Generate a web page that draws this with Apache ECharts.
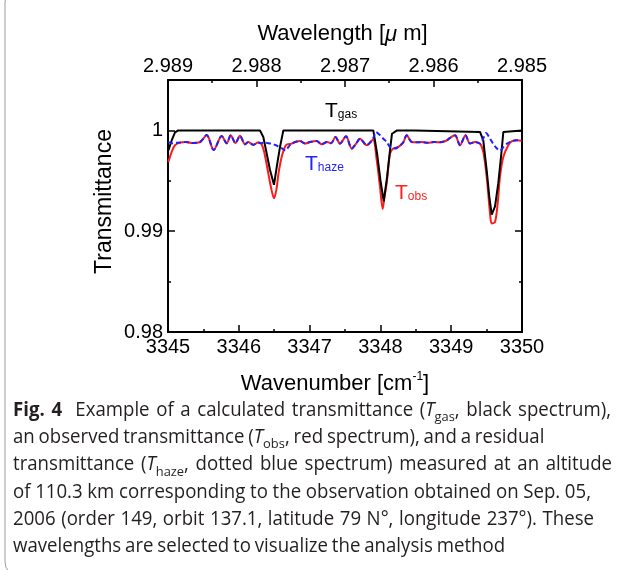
<!DOCTYPE html>
<html><head><meta charset="utf-8">
<script src="https://cdn.jsdelivr.net/npm/echarts@6/dist/echarts.min.js"></script>
<style>html,body{margin:0;padding:0;background:#fff}#c{width:627px;height:570px}</style>
</head><body><div id="c"></div>
<script>
// ---- axis ranges / tick labels ----
const wnMin = 3345, wnMax = 3350, wnInterval = 1;
const tMin = 0.98, tMax = 1.005, tInterval = 0.01, tMinorInterval = 0.005;
const tTickLabels = { '0.98': '0.98', '0.99': '0.99', '1': '1' };
const wlMin = 2.985, wlMax = 2.989, wlInterval = 0.001;

// ---- T_gas (black) ----
const gasWn = [3345.004,3345.052,3345.099,3345.145,3346.299,3346.346,3346.394,3346.441,3346.497,3346.536,3346.582,3346.629,3347.900,3347.953,3348.000,3348.047,3348.095,3348.141,3348.164,3348.235,3348.490,3348.515,3349.407,3349.453,3349.501,3349.538,3349.572,3349.619,3349.665,3349.713,3349.736,3349.760,3350.0];
const gasT = [0.998,0.999,0.9998,1,1,0.99934,0.99771,0.99607,0.9946,0.99639,0.99836,1,1,0.99771,0.99508,0.99295,0.99541,0.99836,0.99967,1,1,0.99985,0.99985,0.99902,0.99607,0.99344,0.99164,0.99246,0.99476,0.99803,0.99983,1,1];

// ---- T_obs (red) ----
const obsWn = [3345.004,3345.052,3345.099,3345.169,3345.254,3345.339,3345.452,3345.547,3345.645,3345.758,3345.829,3345.886,3345.953,3346.017,3346.088,3346.134,3346.205,3346.271,3346.314,3346.356,3346.417,3346.462,3346.497,3346.533,3346.561,3346.606,3346.667,3346.747,3346.808,3346.864,3346.935,3347.006,3347.100,3347.171,3347.246,3347.302,3347.366,3347.429,3347.514,3347.595,3347.655,3347.712,3347.806,3347.895,3347.948,3347.994,3348.032,3348.058,3348.089,3348.136,3348.182,3348.253,3348.323,3348.371,3348.442,3348.513,3348.588,3348.672,3348.757,3348.842,3348.927,3348.983,3349.054,3349.124,3349.202,3349.266,3349.336,3349.407,3349.453,3349.501,3349.548,3349.572,3349.619,3349.657,3349.689,3349.736,3349.806,3349.854,3349.925,3349.996];
const obsT = [0.99685,0.99787,0.99853,0.99879,0.99885,0.99875,0.99885,0.99954,0.99806,0.99944,0.99872,0.99951,0.99875,0.99946,0.99862,0.99885,0.99857,0.99879,0.99872,0.99794,0.99574,0.9941,0.99326,0.9942,0.99574,0.99737,0.99853,0.99869,0.99887,0.99895,0.99869,0.99885,0.99895,0.99862,0.99885,0.99872,0.99934,0.99869,0.99941,0.9982,0.99867,0.99918,0.99853,0.99907,0.99705,0.99442,0.9922,0.99341,0.99476,0.99771,0.9982,0.99836,0.99882,0.99951,0.99885,0.99882,0.99885,0.99877,0.99885,0.99882,0.99897,0.99926,0.99951,0.99853,0.99951,0.99869,0.99885,0.99869,0.99787,0.99541,0.99181,0.99076,0.99091,0.99279,0.99541,0.99737,0.99853,0.99892,0.99902,0.99897];

// ---- T_haze (blue dotted) ----
const hazeWn = [3345.004,3345.052,3345.099,3345.169,3345.254,3345.339,3345.452,3345.547,3345.645,3345.758,3345.829,3345.886,3345.953,3346.017,3346.088,3346.134,3346.205,3346.271,3346.314,3346.356,3346.417,3346.469,3346.525,3346.568,3346.617,3346.660,3346.702,3346.747,3346.808,3346.864,3346.935,3347.006,3347.100,3347.171,3347.246,3347.302,3347.366,3347.429,3347.514,3347.595,3347.655,3347.712,3347.806,3347.895,3347.938,3347.980,3348.041,3348.089,3348.136,3348.218,3348.253,3348.323,3348.371,3348.442,3348.513,3348.588,3348.672,3348.757,3348.842,3348.927,3348.983,3349.054,3349.124,3349.202,3349.266,3349.336,3349.407,3349.453,3349.492,3349.548,3349.619,3349.689,3349.736,3349.788,3349.854,3349.925,3349.996];
const hazeT = [0.99885,0.99872,0.99877,0.99879,0.99885,0.99875,0.99885,0.99954,0.99806,0.99944,0.99872,0.99951,0.99875,0.99946,0.99862,0.99885,0.99857,0.99879,0.99872,0.99882,0.99872,0.99867,0.99853,0.99836,0.9982,0.998,0.99836,0.99869,0.99887,0.99895,0.99869,0.99885,0.99895,0.99862,0.99885,0.99872,0.99934,0.99869,0.99941,0.9982,0.99867,0.99918,0.99853,0.99918,0.99983,0.99961,0.99918,0.99885,0.99836,0.9982,0.99836,0.99882,0.99951,0.99885,0.99882,0.99885,0.99877,0.99885,0.99882,0.99897,0.99926,0.99951,0.99853,0.99951,0.99869,0.99885,0.99869,0.99921,0.99973,0.99918,0.99841,0.998,0.99833,0.99869,0.99892,0.99902,0.99897];

const zip = (xs, ys) => xs.map((x, i) => [x, ys[i]]);

// ---- text layout helper (measure with canvas) ----
const mctx = document.createElement('canvas').getContext('2d');
const MID = { 'Liberation Sans': 0.3465, 'Open Sans': 0.388 };
function fontStr(s) {
  return `${s.italic ? 'italic ' : ''}${s.bold ? 'bold ' : ''}${s.size}px "${s.family}"`;
}
function textW(s, t) { mctx.font = fontStr(s); return mctx.measureText(t).width; }
function measure(segs) { return segs.reduce((a, s) => a + textW(s, s.text), 0); }
function mkText(s, t, x, baseline, scale) {
  return {
    type: 'text', x: x, y: baseline + (s.dy || 0) - MID[s.family] * s.size,
    scaleX: scale, silent: true, z: 100,
    style: { text: t, font: fontStr(s), fill: s.color || '#000', align: 'left', verticalAlign: 'middle' }
  };
}
function layout(segs, x, baseline, align) {
  const total = measure(segs);
  let cx = align === 'center' ? x - total / 2 : x;
  return segs.map(s => { const el = mkText(s, s.text, cx, baseline, 1); cx += textW(s, s.text); return el; });
}
// caption line: uniform horizontal scale, spaces nudged slightly towards the reference right edge
function layoutLine(segs, x, baseline, scale, right) {
  const nat = measure(segs) * scale;
  const nSp = segs.reduce((a, s) => a + (s.text.match(/ /g) || []).length, 0);
  const extra = nSp ? Math.min(2.5, Math.max(-1, (right - x - nat) / nSp)) : 0;
  const out = [];
  let cx = x;
  segs.forEach(s => {
    s.text.split(/( )/).forEach(p => {
      if (p === '') return;
      const w = textW(s, p) * scale;
      if (p === ' ') { cx += w + extra; return; }
      out.push(mkText(s, p, cx, baseline, scale));
      cx += w;
    });
  });
  return out;
}

const AR = 'Liberation Sans', OS = 'Open Sans';
const graphics = [];

// figure frame (left rounded border)
graphics.push({ type: 'rect', silent: true, shape: { x: 5, y: -12, width: 900, height: 588, r: 14 },
  style: { fill: 'none', stroke: '#9a9a9a', lineWidth: 1 } });

// axis titles
graphics.push(...layout([
  { text: 'Wavelength [', size: 22, family: AR },
  { text: 'μ', size: 22, family: AR, italic: true },
  { text: ' m]', size: 22, family: AR }
], 342.5, 42, 'center'));
graphics.push(...layout([
  { text: 'Wavenumber [cm', size: 22, family: AR },
  { text: '-1', size: 12, family: AR, dy: -11 },
  { text: ']', size: 22, family: AR }
], 335, 392, 'center'));
graphics.push({ type: 'text', x: 105, y: 201.5, rotation: Math.PI / 2, silent: true,
  style: { text: 'Transmittance', font: '23px "Liberation Sans"', fill: '#000', align: 'center', verticalAlign: 'middle' } });

// in-plot labels
graphics.push(...layout([{ text: 'T', size: 21, family: AR }, { text: 'gas', size: 12, family: AR, dy: 0.5 }], 325, 118, 'left'));
graphics.push(...layout([{ text: 'T', size: 21, family: AR, color: '#2323ff' }, { text: 'haze', size: 12, family: AR, dy: 0.5, color: '#2323ff' }], 305, 171.5, 'left'));
graphics.push(...layout([{ text: 'T', size: 21, family: AR, color: '#ff2020' }, { text: 'obs', size: 12, family: AR, dy: 0.5, color: '#ff2020' }], 395, 200, 'left'));

// caption
const CS = 19.5, SUB = 13.5, SUBDY = 4.5;
const capLines = [
  [{ text: 'Fig. 4', bold: true }, { text: '  Example of a calculated transmittance (' }, { text: 'T', italic: true }, { text: 'gas', sub: true }, { text: ', black spectrum),' }],
  [{ text: 'an observed transmittance (' }, { text: 'T', italic: true }, { text: 'obs', sub: true }, { text: ', red spectrum), and a residual' }],
  [{ text: 'transmittance (' }, { text: 'T', italic: true }, { text: 'haze', sub: true }, { text: ', dotted blue spectrum) measured at an altitude' }],
  [{ text: 'of 110.3 km corresponding to the observation obtained on Sep. 05,' }],
  [{ text: '2006 (order 149, orbit 137.1, latitude 79 N°, longitude 237°). These' }],
  [{ text: 'wavelengths are selected to visualize the analysis method' }]
];
const capRight = [611, 497, 612, 591, 594, 497];
const capSegs = capLines.map(line => line.map(s => ({
  text: s.text, bold: s.bold, italic: s.italic, family: OS,
  size: s.sub ? SUB : CS, dy: s.sub ? SUBDY : 0, color: '#231f20'
})));
const capScale = 0.97 * 598 / measure(capSegs[0]);
capSegs.forEach((segs, i) => {
  graphics.push(...layoutLine(segs, 13, 418 + i * 27.2, capScale, capRight[i]));
});

const axisLineStyle = { color: '#000', width: 2 };
const tickStyle = { color: '#000', width: 1.5 };
const labelFont = { fontSize: 20, fontFamily: AR, color: '#000' };

const option = {
  animation: false,
  backgroundColor: '#fff',
  grid: { left: 168, right: 105, top: 80, bottom: 238, containLabel: false },
  xAxis: [
    { type: 'value', position: 'bottom', min: wnMin, max: wnMax, interval: wnInterval,
      axisLine: { show: true, onZero: false, lineStyle: axisLineStyle },
      axisTick: { show: true, inside: true, length: 7, lineStyle: tickStyle },
      minorTick: { show: true, splitNumber: 2, length: 3, lineStyle: tickStyle },
      splitLine: { show: false }, minorSplitLine: { show: false },
      axisLabel: Object.assign({ margin: 5, formatter: v => String(Math.round(v)) }, labelFont) },
    { type: 'value', position: 'top', min: wlMin, max: wlMax, interval: wlInterval, inverse: true,
      axisLine: { show: true, onZero: false, lineStyle: axisLineStyle },
      axisTick: { show: true, inside: true, length: 7, lineStyle: tickStyle },
      minorTick: { show: true, splitNumber: 2, length: 3, lineStyle: tickStyle },
      splitLine: { show: false }, minorSplitLine: { show: false },
      axisLabel: Object.assign({ margin: 4, formatter: v => v.toFixed(3) }, labelFont) }
  ],
  yAxis: [
    { type: 'value', position: 'left', min: tMin, max: tMax, interval: tInterval,
      axisLine: { show: true, onZero: false, lineStyle: axisLineStyle },
      axisTick: { show: true, inside: true, length: 7, lineStyle: tickStyle },
      splitLine: { show: false },
      axisLabel: Object.assign({ margin: 5, showMaxLabel: false,
        formatter: v => tTickLabels[String(Math.round(v * 1000) / 1000)] || '' }, labelFont) },
    { type: 'value', position: 'left', min: tMin, max: tMax, interval: tMinorInterval,
      axisLine: { show: false }, axisTick: { show: true, inside: true, length: 3, lineStyle: tickStyle },
      splitLine: { show: false }, axisLabel: { show: false } },
    { type: 'value', position: 'right', min: tMin, max: tMax, interval: tInterval,
      axisLine: { show: true, onZero: false, lineStyle: axisLineStyle },
      axisTick: { show: true, inside: true, length: 7, lineStyle: tickStyle },
      splitLine: { show: false }, axisLabel: { show: false } },
    { type: 'value', position: 'right', min: tMin, max: tMax, interval: tMinorInterval,
      axisLine: { show: false }, axisTick: { show: true, inside: true, length: 3, lineStyle: tickStyle },
      splitLine: { show: false }, axisLabel: { show: false } }
  ],
  series: [
    { name: 'Tobs', type: 'line', xAxisIndex: 0, yAxisIndex: 0, data: zip(obsWn, obsT),
      showSymbol: false, smooth: 0.3, lineStyle: { color: '#ff1a1a', width: 2 }, z: 2 },
    { name: 'Tgas', type: 'line', xAxisIndex: 0, yAxisIndex: 0, data: zip(gasWn, gasT),
      showSymbol: false, smooth: false, lineStyle: { color: '#000', width: 2 }, z: 3 },
    { name: 'Thaze', type: 'line', xAxisIndex: 0, yAxisIndex: 0, data: zip(hazeWn, hazeT),
      showSymbol: false, smooth: 0.3, lineStyle: { color: '#1f1fff', width: 2, type: [5, 3] }, z: 4 }
  ],
  graphic: graphics
};
const chart = echarts.init(document.getElementById('c'), null, { renderer: 'canvas' });
chart.setOption(option);
</script>
</body></html>
